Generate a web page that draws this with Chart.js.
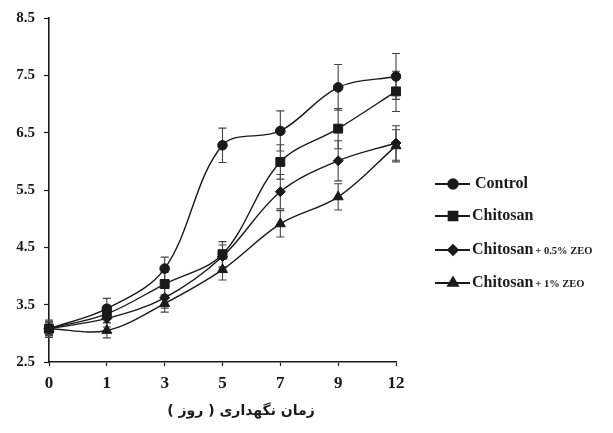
<!DOCTYPE html>
<html>
<head>
<meta charset="utf-8">
<script src="https://cdn.jsdelivr.net/npm/chart.js@4.4.1/dist/chart.umd.min.js"></script>
<style>
  html, body { margin: 0; padding: 0; background: #fff; }
  #wrap { position: relative; width: 613px; height: 433px; }
</style>
</head>
<body>
<div id="wrap"><canvas id="chart" width="613" height="433"></canvas></div>
<script>
const days = ['0', '1', '3', '5', '7', '9', '12'];
const yTicks = [2.5, 3.5, 4.5, 5.5, 6.5, 7.5, 8.5];

const control = [3.08, 3.43, 4.13, 6.28, 6.53, 7.29, 7.48];
const controlErr = [0.15, 0.18, 0.2, 0.3, 0.35, 0.4, 0.4];
const chitosan = [3.08, 3.34, 3.86, 4.38, 5.99, 6.57, 7.22];
const chitosanErr = [0.12, 0.15, 0.2, 0.22, 0.3, 0.35, 0.35];
const zeo05 = [3.08, 3.26, 3.62, 4.34, 5.47, 6.01, 6.32];
const zeo05Err = [0.12, 0.15, 0.18, 0.2, 0.3, 0.35, 0.3];
const zeo1 = [3.08, 3.05, 3.52, 4.11, 4.91, 5.38, 6.27];
const zeo1Err = [0.1, 0.13, 0.15, 0.18, 0.23, 0.23, 0.28];

const seriesNames = [['Control', ''], ['Chitosan', ''], ['Chitosan', '+ 0.5% ZEO'], ['Chitosan', '+ 1% ZEO']];
const xTitle = 'زمان نگهداری ( روز )';

const ink = '#1a1a1a';

const makeSet = (label, data, err, style, radius) => ({
  label,
  data,
  err,
  borderColor: ink,
  backgroundColor: ink,
  borderWidth: 1.4,
  pointStyle: style,
  pointRadius: radius,
  pointBackgroundColor: ink,
  pointBorderColor: ink,
  pointBorderWidth: 1,
  tension: 0.35,
  fill: false
});

// error bars, drawn under the markers
const errorBars = {
  id: 'errorBars',
  beforeDatasetsDraw(chart) {
    const { ctx, scales: { x, y } } = chart;
    ctx.save();
    ctx.strokeStyle = '#444';
    ctx.lineWidth = 1.1;
    chart.data.datasets.forEach(ds => {
      ds.data.forEach((v, i) => {
        const px = x.getPixelForValue(i);
        const top = y.getPixelForValue(v + ds.err[i]);
        const bot = y.getPixelForValue(v - ds.err[i]);
        ctx.beginPath();
        ctx.moveTo(px, top); ctx.lineTo(px, bot);
        ctx.moveTo(px - 4, top); ctx.lineTo(px + 4, top);
        ctx.moveTo(px - 4, bot); ctx.lineTo(px + 4, bot);
        ctx.stroke();
      });
    });
    ctx.restore();
  }
};

// legend on the right and the axis title under the chart
const sideLegend = {
  id: 'sideLegend',
  afterDraw(chart) {
    const { ctx } = chart;
    const rows = [184, 216, 250, 283];
    ctx.save();
    chart.data.datasets.forEach((ds, i) => {
      const y = rows[i];
      ctx.strokeStyle = ink;
      ctx.fillStyle = ink;
      ctx.lineWidth = 1.8;
      ctx.beginPath();
      ctx.moveTo(435, y); ctx.lineTo(470, y);
      ctx.stroke();
      Chart.helpers.drawPoint(ctx, { pointStyle: ds.pointStyle, radius: ds.pointRadius, rotation: 0, borderWidth: 1 }, 453, y);
      ctx.textBaseline = 'middle';
      ctx.textAlign = 'left';
      ctx.font = 'bold 16px "Liberation Serif"';
      const [main, small] = seriesNames[i];
      const tx = i === 0 ? 475 : 472;
      ctx.fillText(main, tx, y);
      if (small) {
        const w = ctx.measureText(main).width;
        ctx.font = 'bold 10.5px "Liberation Serif"';
        ctx.fillText(small, tx + w + 2, y + 1.5);
      }
    });
    ctx.font = 'bold 14px "DejaVu Sans"';
    ctx.textAlign = 'center';
    ctx.textBaseline = 'middle';
    ctx.fillText('\u202B' + xTitle + '\u202C', 241, 411);
    ctx.restore();
  }
};

new Chart(document.getElementById('chart'), {
  type: 'line',
  data: {
    labels: days,
    datasets: [
      makeSet('Control', control, controlErr, 'circle', 4.8),
      makeSet('Chitosan', chitosan, chitosanErr, 'rect', 6.3),
      makeSet('Chitosan+ 0.5% ZEO', zeo05, zeo05Err, 'rectRot', 5),
      makeSet('Chitosan+ 1% ZEO', zeo1, zeo1Err, 'triangle', 5.8)
    ]
  },
  options: {
    responsive: false,
    animation: false,
    layout: { padding: { top: 17, right: 217, bottom: 0, left: 0 } },
    plugins: {
      legend: { display: false },
      tooltip: { enabled: false }
    },
    scales: {
      x: {
        type: 'category',
        offset: false,
        grid: { drawOnChartArea: false, drawTicks: true, tickLength: 4, color: ink, tickWidth: 1.2 },
        border: { display: true, color: ink, width: 1.6 },
        ticks: {
          color: ink,
          padding: 7,
          maxRotation: 0,
          font: { family: '"Liberation Serif"', size: 17, weight: 'bold' }
        },
        afterFit(scale) { scale.height = 71; }
      },
      y: {
        min: 2.5,
        max: 8.5,
        afterBuildTicks(scale) { scale.ticks = yTicks.map(v => ({ value: v })); },
        grid: { drawOnChartArea: false, drawTicks: true, tickLength: 5, color: ink, tickWidth: 1.2 },
        border: { display: true, color: ink, width: 1.6 },
        ticks: {
          color: ink,
          padding: 9,
          callback: v => v.toFixed(1),
          font: { family: '"Liberation Serif"', size: 15, weight: 'bold' }
        },
        afterFit(scale) { scale.width = 49; }
      }
    }
  },
  plugins: [errorBars, sideLegend]
});
</script>
</body>
</html>
